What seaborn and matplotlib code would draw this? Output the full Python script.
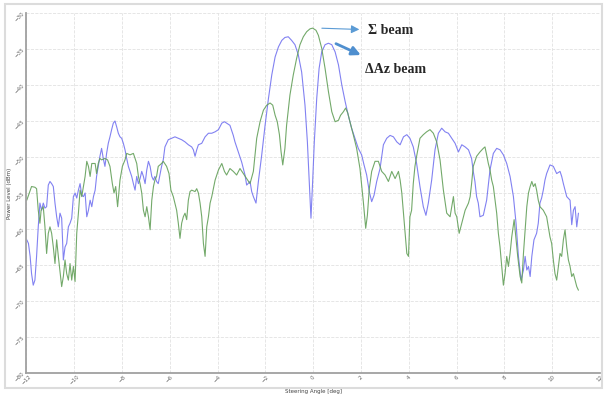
import seaborn as sns
import matplotlib.pyplot as plt
import matplotlib.patches as mpatches
import pandas as pd

# sum beam (green)
sum_angle = [
    -11.98, -11.78, -11.64, -11.57, -11.50, -11.43, -11.38, -11.29, -11.22, -11.15,
    -11.08, -11.01, -10.94, -10.87, -10.80, -10.73, -10.66, -10.52, -10.45, -10.38,
    -10.31, -10.24, -10.17, -10.10, -10.03, -9.96, -9.89, -9.82, -9.75, -9.68,
    -9.54, -9.47, -9.40, -9.33, -9.26, -9.12, -9.06, -8.99, -8.92, -8.85,
    -8.71, -8.60, -8.50, -8.40, -8.33, -8.26, -8.18, -8.08, -7.98, -7.87,
    -7.80, -7.66, -7.52, -7.38, -7.31, -7.24, -7.17, -7.10, -7.03, -6.96,
    -6.89, -6.82, -6.75, -6.68, -6.62, -6.55, -6.48, -6.34, -6.27, -6.13,
    -6.03, -5.95, -5.85, -5.71, -5.64, -5.57, -5.50, -5.43, -5.36, -5.29,
    -5.22, -5.15, -5.08, -4.94, -4.87, -4.80, -4.73, -4.66, -4.59, -4.52,
    -4.45, -4.38, -4.31, -4.24, -4.10, -3.96, -3.82, -3.71,
    -3.62, -3.48, -3.34, -3.20, -3.06, -2.92, -2.78, -2.64, -2.50,
    -2.43, -2.36, -2.22, -2.08, -1.94, -1.80, -1.69, -1.59, -1.50, -1.41,
    -1.34, -1.27, -1.18, -1.11, -0.97, -0.83, -0.69, -0.55, -0.41, -0.27,
    -0.13, -0.02, 0.12, 0.22, 0.36, 0.50, 0.64, 0.78, 0.92, 1.06,
    1.15, 1.27, 1.36, 1.45, 1.54, 1.68, 1.82, 1.96, 2.10, 2.20,
    2.27, 2.35, 2.45, 2.59, 2.73, 2.87, 3.01, 3.15, 3.29, 3.43, 3.57,
    3.64, 3.71, 3.78, 3.85, 3.92, 3.99, 4.05, 4.12, 4.19, 4.26,
    4.33, 4.47, 4.61, 4.75, 4.89, 5.03, 5.17, 5.31, 5.45, 5.59,
    5.73, 5.80, 5.87, 5.94, 6.01, 6.11, 6.22, 6.36, 6.50, 6.57,
    6.63, 6.70, 6.84, 6.98, 7.12, 7.19, 7.26, 7.33, 7.40, 7.47,
    7.54, 7.61, 7.68, 7.75, 7.82, 7.89, 7.96, 8.03, 8.10, 8.17,
    8.24, 8.31, 8.41, 8.49, 8.56, 8.66, 8.73, 8.80, 8.87, 8.94,
    9.01, 9.08, 9.15, 9.22, 9.29, 9.35, 9.42, 9.49, 9.63, 9.77,
    9.84, 9.91, 9.98, 10.05, 10.12, 10.19, 10.26, 10.33, 10.40, 10.47,
    10.54, 10.61, 10.68, 10.75, 10.82, 10.89, 10.96, 11.03, 11.10,
]
sum_db = [
    -56.0, -54.1, -54.2, -54.4, -57.4, -59.2, -57.4, -56.9, -59.7, -63.4,
    -60.6, -59.7, -60.6, -62.5, -64.8, -61.5, -63.8, -68.0, -66.6, -64.3,
    -66.2, -67.1, -64.8, -67.1, -65.2, -67.3, -60.6, -57.8, -54.6, -55.5,
    -52.7, -50.6, -51.3, -52.7, -50.9, -50.9, -52.3, -50.9, -50.2, -50.4,
    -50.2, -50.4, -51.3, -53.7, -55.0, -54.1, -56.9, -53.2, -51.3, -50.4,
    -49.5, -49.7, -49.5, -50.9, -52.7, -53.7, -55.0, -57.4, -58.3, -56.9,
    -58.3, -60.1, -56.0, -54.1, -53.2, -52.7, -51.3, -50.9, -50.6, -51.3,
    -52.3, -54.6, -55.5, -57.4, -59.2, -61.3, -59.2, -58.3, -57.8, -58.7,
    -56.0, -54.8, -54.6, -54.8, -54.4, -55.0, -56.4, -58.3, -62.0, -63.8,
    -59.7, -58.3, -56.4, -55.5, -53.2, -51.8, -50.9, -52.0,
    -52.5, -51.6, -52.0, -52.5, -51.6, -52.3, -53.0, -53.7, -52.0,
    -49.7, -47.4, -45.1, -43.5, -42.8, -42.5, -42.8, -44.2, -45.1, -46.9,
    -49.3, -51.1, -48.8, -45.6, -41.4, -38.6, -36.3, -34.4, -33.3, -32.6,
    -32.2, -32.1, -32.4, -33.1, -34.9, -37.7, -40.9, -43.7, -45.1, -44.9,
    -44.2, -43.7, -43.2, -43.9, -45.1, -46.9, -48.8, -51.6, -56.2, -59.9,
    -58.1, -54.4, -52.0, -50.6, -50.6, -52.0, -52.5, -53.4, -52.0, -53.0, -52.0,
    -53.2, -55.0, -57.8, -60.6, -63.4, -63.8, -58.3, -57.4, -53.7, -51.3,
    -49.9, -47.4, -46.9, -46.5, -46.2, -46.7, -47.9, -50.4, -54.6, -57.8,
    -58.3, -56.9, -55.5, -57.8, -58.3, -60.6, -59.2, -57.4, -56.4, -55.5,
    -53.7, -51.3, -49.9, -49.3, -48.8, -48.6, -49.7, -50.9, -51.8, -53.2,
    -54.1, -56.0, -57.8, -60.6, -62.5, -65.2, -67.8, -66.2, -63.8, -65.2,
    -63.4, -61.1, -58.7, -61.5, -63.8, -66.6, -67.5, -63.4, -60.1, -56.9,
    -55.0, -54.1, -53.4, -54.1, -53.7, -54.6, -56.0, -56.9, -57.4, -58.3,
    -59.7, -61.1, -62.0, -64.3, -66.2, -67.1, -65.2, -63.4, -63.8, -61.5,
    -60.1, -62.5, -64.3, -65.2, -66.6, -66.2, -67.1, -68.0, -68.5,
]

# delta azimuth beam (blue)
diff_angle = [
    -11.98, -11.91, -11.84, -11.78, -11.71, -11.64, -11.57, -11.50, -11.43, -11.36,
    -11.29, -11.22, -11.15, -11.08, -11.01, -10.94, -10.87, -10.80, -10.73, -10.66,
    -10.59, -10.52, -10.45, -10.38, -10.31, -10.24, -10.17, -10.10, -10.03, -9.96,
    -9.89, -9.82, -9.75, -9.68, -9.61, -9.54, -9.47, -9.40, -9.33, -9.26,
    -9.19, -9.12, -9.06, -8.99, -8.92, -8.85, -8.78, -8.71, -8.64, -8.57,
    -8.50, -8.43, -8.36, -8.29, -8.22, -8.15, -8.08, -8.01, -7.94, -7.87,
    -7.80, -7.73, -7.66, -7.59, -7.52, -7.45, -7.38, -7.31, -7.24, -7.17,
    -7.10, -7.03, -6.96, -6.89, -6.82, -6.75, -6.68, -6.62, -6.55, -6.48,
    -6.41, -6.34, -6.27, -6.20, -6.13, -6.06, -5.92, -5.78, -5.64, -5.50,
    -5.36, -5.22, -5.08, -5.01, -4.94, -4.87, -4.80, -4.66, -4.52, -4.38,
    -4.24, -4.10, -3.96, -3.82, -3.71,
    -3.62, -3.48, -3.34, -3.27, -3.13, -2.99, -2.85, -2.78, -2.64, -2.57,
    -2.50, -2.39, -2.29, -2.15, -2.01, -1.87, -1.73, -1.59, -1.45, -1.31,
    -1.18, -1.04, -0.90, -0.76, -0.62, -0.48, -0.34, -0.24, -0.16, -0.09,
    -0.02, 0.05, 0.15, 0.25, 0.36, 0.50, 0.64, 0.78, 0.92, 1.06,
    1.20, 1.34, 1.47, 1.61, 1.75, 1.89, 2.03, 2.13, 2.24, 2.35,
    2.45, 2.55, 2.66, 2.80, 2.94, 3.08, 3.22, 3.36, 3.50,
    3.64, 3.78, 3.92, 4.05, 4.19, 4.33, 4.47, 4.61, 4.72, 4.82,
    4.96, 5.10, 5.24, 5.38, 5.52, 5.66, 5.80, 5.94, 6.08, 6.22,
    6.36, 6.50, 6.63, 6.70, 6.77, 6.84, 6.91, 6.98, 7.12, 7.26,
    7.40, 7.54, 7.68, 7.82, 7.96, 8.10, 8.24, 8.38, 8.49, 8.59,
    8.70, 8.80, 8.87, 8.94, 9.01, 9.08, 9.15, 9.24, 9.35, 9.42,
    9.49, 9.56, 9.63, 9.70, 9.77, 9.91, 10.05, 10.19, 10.33, 10.40,
    10.47, 10.61, 10.75, 10.82, 10.89, 10.96, 11.03, 11.10,
]
diff_db = [
    -61.5, -62.0, -63.8, -66.2, -67.8, -67.1, -63.8, -59.7, -56.4, -57.4,
    -56.4, -57.1, -56.9, -53.9, -53.4, -53.7, -54.1, -56.4, -58.3, -59.7,
    -57.8, -58.5, -64.3, -62.5, -62.0, -59.7, -59.2, -58.5, -55.5, -55.0,
    -55.7, -54.6, -53.7, -55.3, -55.5, -55.0, -58.3, -57.4, -56.0, -56.9,
    -55.5, -54.6, -52.7, -51.3, -49.9, -48.8, -50.2, -51.3, -49.5, -48.1,
    -47.2, -46.2, -45.3, -45.0, -45.8, -46.7, -47.2, -47.4, -48.1, -49.0,
    -50.2, -51.3, -52.0, -52.7, -53.7, -54.6, -52.7, -53.7, -53.0, -52.0,
    -52.7, -53.7, -51.8, -50.6, -51.3, -52.7, -53.2, -52.7, -53.4, -53.7,
    -52.5, -51.3, -50.4, -48.6, -48.1, -47.6, -47.4, -47.2, -47.4, -47.6,
    -47.9, -48.3, -48.6, -49.0, -49.9, -49.0, -48.3, -48.1, -47.2, -46.7,
    -46.7, -46.5, -46.2, -45.3, -45.1,
    -45.3, -45.6, -47.0, -47.9, -49.3, -50.7, -52.5, -53.9, -53.4, -54.8,
    -55.5, -56.4, -53.4, -49.7, -45.6, -41.9, -38.6, -36.1, -34.7, -33.8,
    -33.4, -33.3, -33.8, -34.4, -35.8, -38.2, -42.8, -47.9, -53.4, -58.5,
    -53.4, -47.9, -41.9, -37.7, -35.4, -34.4, -34.2, -34.4, -35.4, -37.2,
    -40.0, -42.3, -44.2, -46.0, -47.4, -48.8, -49.7, -51.1, -52.5, -54.8,
    -56.2, -55.3, -53.4, -51.6, -48.3, -47.4, -47.0, -47.2, -47.9,
    -48.3, -47.2, -46.9, -47.4, -48.6, -50.9, -54.1, -56.9, -58.1, -56.4,
    -53.2, -49.0, -46.7, -46.0, -46.5, -46.7, -47.4, -48.1, -49.3, -48.3,
    -48.6, -49.0, -50.2, -52.0, -53.4, -55.5, -56.4, -58.3, -58.1, -56.0,
    -51.8, -49.5, -48.8, -49.0, -49.7, -50.9, -52.7, -55.5, -59.2, -63.8,
    -67.1, -65.7, -63.8, -65.7, -65.2, -66.6, -63.8, -61.5, -60.6, -59.2,
    -56.4, -55.7, -54.6, -53.2, -52.3, -51.1, -51.3, -52.3, -52.0, -52.7,
    -53.7, -55.5, -56.0, -59.4, -57.4, -56.9, -59.7, -57.8,
]

x_ticks = list(range(-12, 13, 2))
y_ticks = list(range(-80, -29, 5))

sum_df = pd.DataFrame({"angle": sum_angle, "db": sum_db})
diff_df = pd.DataFrame({"angle": diff_angle, "db": diff_db})

sns.set_style("whitegrid", {"grid.linestyle": "--", "grid.color": "#e2e2e2"})
fig = plt.figure(figsize=(6.06, 3.94), dpi=100)
ax = fig.add_axes([0.0434, 0.0533, 0.9466, 0.9137])

sns.lineplot(data=diff_df, x="angle", y="db", ax=ax, color="#7474f0", lw=0.8, sort=False, alpha=0.9)
sns.lineplot(data=sum_df, x="angle", y="db", ax=ax, color="#64a05a", lw=0.8, sort=False, alpha=0.9)

ax.set_xlim(-12, 12)
ax.set_ylim(-80, -30)
ax.set_xticks(x_ticks)
ax.set_yticks(y_ticks)
ax.tick_params(labelsize=4, colors="#666666", length=0, pad=1)
for lab in ax.get_xticklabels() + ax.get_yticklabels():
    lab.set_rotation(45)
ax.grid(True, lw=0.6)
ax.set_xlabel("Steering Angle [deg]", fontsize=4, color="#444444", labelpad=2)
ax.set_ylabel("Power Level (dBm)", fontsize=4, color="#444444", labelpad=1)
for side in ["top", "right"]:
    ax.spines[side].set_visible(False)
for side in ["left", "bottom"]:
    ax.spines[side].set_color("#a0a0a0")
    ax.spines[side].set_linewidth(1.3)

ax.annotate("", xy=(2.05, -32.3), xytext=(0.25, -32.1),
            arrowprops=dict(arrowstyle="-|>", color="#5b9bd5", lw=0.8, mutation_scale=12))
ax.annotate("", xy=(2.1, -36.0), xytext=(0.85, -34.1),
            arrowprops=dict(arrowstyle="-|>", color="#4f8fcf", lw=2, mutation_scale=13))
ax.text(2.3, -32.4, "Σ beam", fontsize=10, fontweight="bold",
        family="Liberation Serif", va="center", ha="left")
ax.text(2.17, -37.9, "ΔAz beam", fontsize=10, fontweight="bold",
        family="Liberation Serif", va="center", ha="left")

fig.add_artist(mpatches.Rectangle((0.008, 0.015), 0.985, 0.975, transform=fig.transFigure,
                                  fill=False, ec="#dcdcdc", lw=1.5))

fig.savefig("out.png", dpi=100)
